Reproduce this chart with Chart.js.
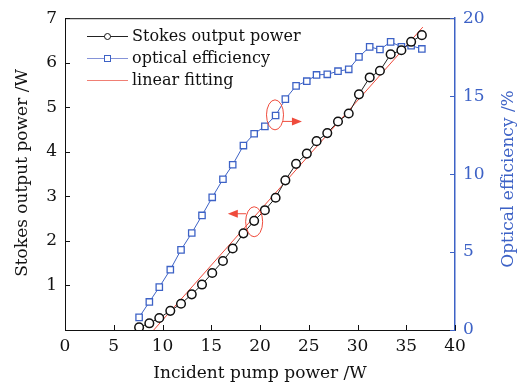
<!DOCTYPE html>
<html>
<head>
<meta charset="utf-8">
<script src="https://cdn.jsdelivr.net/npm/chart.js@4"></script>
<style>
  html, body { margin: 0; padding: 0; background: #fff; }
  #chart { display: block; }
</style>
</head>
<body>
<canvas id="chart" width="522" height="388"></canvas>
<script>
const pump = [7.6, 8.65, 9.67, 10.8, 11.9, 13.0, 14.05, 15.1, 16.2, 17.2, 18.3, 19.4, 20.5, 21.6,
    22.6, 23.7, 24.8, 25.8, 26.9, 28.0, 29.1, 30.15, 31.25, 32.3, 33.4, 34.5, 35.5, 36.6];
const stokesPower = [0.06, 0.15, 0.27, 0.43, 0.59, 0.80, 1.02, 1.28, 1.55, 1.83, 2.17, 2.45, 2.69, 2.97,
    3.36, 3.73, 3.96, 4.24, 4.42, 4.68, 4.86, 5.29, 5.67, 5.82, 6.19, 6.28, 6.47, 6.62];
const efficiency = [0.81, 1.80, 2.75, 3.87, 5.14, 6.22, 7.35, 8.51, 9.67, 10.6, 11.83, 12.59, 13.06, 13.76,
    14.81, 15.66, 15.96, 16.36, 16.4, 16.6, 16.72, 17.52, 18.16, 17.99, 18.48, 18.16, 18.24, 18.03];
const fitPump = [9.1, 36.7];
const fitPower = [0, 6.8];

// red callouts: [x, y, axis, arrow tip x, arrow y]
const callouts = [
    [21.54, 13.8, 'y2', 24.3, 13.38],
    [19.4, 2.43, 'y', 16.7, 2.61]
];

const FONT = 'DejaVu Serif';
const BLUE = '#3d62c6';
const RED = '#ef4b3c';

const toPoints = (xs, ys) => xs.map((x, i) => ({ x: x, y: ys[i] }));

// rotated title squeezed to the length it has in the original
function vertText(ctx, text, cx, cy, len, color) {
    ctx.save();
    ctx.translate(cx, cy);
    ctx.rotate(-Math.PI / 2);
    const w = ctx.measureText(text).width;
    if (w > len) ctx.scale(len / w, 1);
    ctx.fillStyle = color;
    ctx.textAlign = 'center';
    ctx.textBaseline = 'middle';
    ctx.fillText(text, 0, 0);
    ctx.restore();
}

// inward tick marks, top border, axis titles, legend and callouts
const decor = {
    id: 'decor',
    afterDraw(chart) {
        const ctx = chart.ctx;
        const area = chart.chartArea;
        const { x, y, y2 } = chart.scales;
        ctx.save();
        ctx.lineWidth = 1;

        ctx.strokeStyle = '#111';
        ctx.beginPath();
        ctx.moveTo(area.left, area.top + 0.5);
        ctx.lineTo(area.right, area.top + 0.5);
        ctx.stroke();

        ctx.beginPath();
        x.ticks.forEach(t => {
            const px = Math.round(x.getPixelForValue(t.value)) + 0.5;
            ctx.moveTo(px, area.bottom);
            ctx.lineTo(px, area.bottom - 5);
        });
        y.ticks.forEach(t => {
            const py = Math.round(y.getPixelForValue(t.value)) + 0.5;
            ctx.moveTo(area.left, py);
            ctx.lineTo(area.left + 5, py);
        });
        ctx.stroke();

        ctx.strokeStyle = BLUE;
        ctx.beginPath();
        y2.ticks.forEach(t => {
            const py = Math.round(y2.getPixelForValue(t.value)) + 0.5;
            ctx.moveTo(area.right, py);
            ctx.lineTo(area.right - 5, py);
        });
        ctx.stroke();

        // y titles, both reading bottom to top
        ctx.font = '17px "' + FONT + '"';
        vertText(ctx, 'Stokes output power /W', 23, 173, 221, '#111');
        vertText(ctx, 'Optical efficiency /%', 509, 179, 183, BLUE);

        // legend
        const rows = [
            { text: 'Stokes output power', color: '#222', marker: 'circle' },
            { text: 'optical efficiency', color: '#8593d8', marker: 'rect' },
            { text: 'linear fitting', color: '#f07f74', marker: null }
        ];
        ctx.font = '16px "' + FONT + '"';
        ctx.textBaseline = 'middle';
        rows.forEach((r, i) => {
            const ly = 36 + i * 22;
            ctx.strokeStyle = r.color;
            ctx.beginPath();
            ctx.moveTo(87, ly + 0.5);
            ctx.lineTo(128, ly + 0.5);
            ctx.stroke();
            if (r.marker === 'circle') {
                ctx.fillStyle = '#fff';
                ctx.beginPath();
                ctx.arc(107.5, ly + 0.5, 3, 0, Math.PI * 2);
                ctx.fill();
                ctx.strokeStyle = '#111';
                ctx.stroke();
            } else if (r.marker === 'rect') {
                ctx.fillStyle = '#fff';
                ctx.fillRect(104, ly - 3, 7, 7);
                ctx.strokeStyle = BLUE;
                ctx.strokeRect(104.5, ly - 2.5, 6, 6);
            }
            ctx.fillStyle = '#111';
            ctx.fillText(r.text, 132, ly + 1);
        });

        // callouts
        ctx.strokeStyle = RED;
        ctx.fillStyle = RED;
        callouts.forEach(c => {
            const sy = chart.scales[c[2]];
            const cx = x.getPixelForValue(c[0]);
            const cy = sy.getPixelForValue(c[1]);
            ctx.beginPath();
            ctx.ellipse(cx, cy, 8.5, 15, 0, 0, Math.PI * 2);
            ctx.stroke();
            const ax = x.getPixelForValue(c[3]);
            const ay = sy.getPixelForValue(c[4]);
            const dir = ax > cx ? 1 : -1;
            ctx.beginPath();
            ctx.moveTo(cx + dir * 8, ay);
            ctx.lineTo(ax - dir * 8, ay);
            ctx.stroke();
            ctx.beginPath();
            ctx.moveTo(ax, ay);
            ctx.lineTo(ax - dir * 10, ay - 4);
            ctx.lineTo(ax - dir * 10, ay + 4);
            ctx.closePath();
            ctx.fill();
        });
        ctx.restore();
    }
};

new Chart(document.getElementById('chart'), {
    type: 'scatter',
    data: {
        datasets: [
            {
                label: 'linear fitting',
                data: toPoints(fitPump, fitPower),
                showLine: true,
                borderColor: RED,
                borderWidth: 1,
                pointRadius: 0,
                yAxisID: 'y',
                order: 3
            },
            {
                label: 'optical efficiency',
                data: toPoints(pump, efficiency),
                showLine: true,
                borderColor: BLUE,
                borderWidth: 1,
                pointStyle: 'rect',
                pointRadius: 4.5,
                pointBorderWidth: 1.3,
                pointBorderColor: BLUE,
                pointBackgroundColor: '#fff',
                yAxisID: 'y2',
                order: 2
            },
            {
                label: 'Stokes output power',
                data: toPoints(pump, stokesPower),
                showLine: true,
                borderColor: '#222',
                borderWidth: 1,
                pointRadius: 4.3,
                pointBorderWidth: 1.5,
                pointBorderColor: '#111',
                pointBackgroundColor: '#fff',
                yAxisID: 'y',
                order: 1
            }
        ]
    },
    options: {
        responsive: false,
        animation: false,
        layout: { padding: { top: 15 } },
        plugins: { legend: { display: false }, tooltip: { enabled: false } },
        scales: {
            x: {
                type: 'linear',
                min: 0, max: 40,
                afterFit: s => { s.height = 58; },
                ticks: { stepSize: 5, color: '#111', padding: 6, font: { family: FONT, size: 17 } },
                grid: { drawOnChartArea: false, drawTicks: false },
                border: { color: '#111', width: 1 },
                title: { display: true, text: 'Incident pump power /W', color: '#111', padding: { top: 7 },
                    font: { family: FONT, size: 17 } }
            },
            y: {
                position: 'left',
                min: 0, max: 7,
                afterFit: s => { s.width = 65; },
                ticks: { stepSize: 1, color: '#111', padding: 8, font: { family: FONT, size: 17 },
                    callback: v => v === 0 ? '' : v },
                grid: { drawOnChartArea: false, drawTicks: false },
                border: { color: '#111', width: 1 }
            },
            y2: {
                position: 'right',
                min: 0, max: 20,
                afterFit: s => { s.width = 67; },
                ticks: { stepSize: 5, color: BLUE, padding: 8, font: { family: FONT, size: 17 } },
                grid: { drawOnChartArea: false, drawTicks: false },
                border: { color: BLUE, width: 1.5 }
            }
        }
    },
    plugins: [decor]
});
</script>
</body>
</html>
